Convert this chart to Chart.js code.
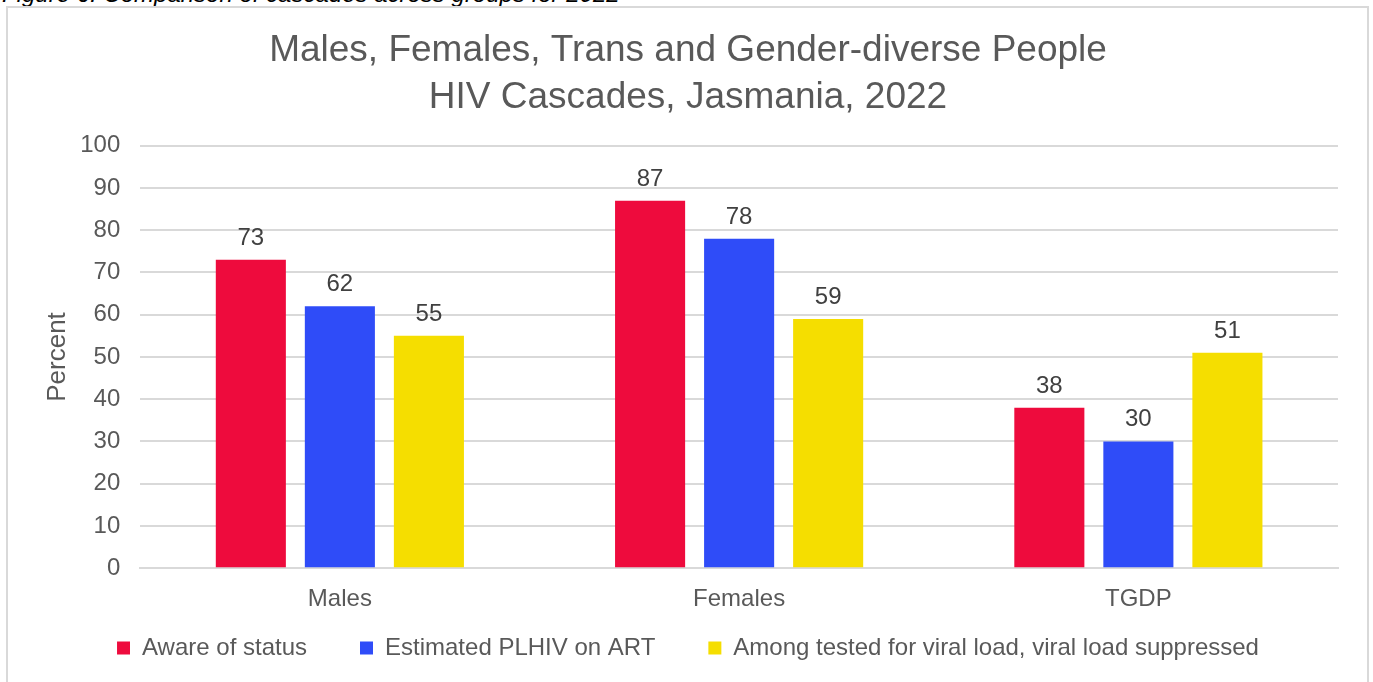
<!DOCTYPE html>
<html>
<head>
<meta charset="utf-8">
<script src="https://cdn.jsdelivr.net/npm/chart.js@4"></script>
<style>
  body { margin: 0; background: #fff; font-family: "Liberation Sans", Arial, sans-serif; }
  #caption { position: absolute; left: 2px; top: -18px; font-size: 24px; line-height: 24px; font-style: italic; color: #000; white-space: nowrap; }
  #frame { position: absolute; left: 6px; top: 6px; width: 1359px; height: 700px; border: 2px solid #d9d9d9; }
  #wrap { position: absolute; left: 0; top: 0; width: 1373px; height: 682px; }
</style>
</head>
<body>
<div id="caption">Figure 6. Comparison of cascades across groups for 2022</div>
<div id="frame"></div>
<div id="wrap"><canvas id="barChart"></canvas></div>
<script>
const groups = ['Males', 'Females', 'TGDP'];
const awareOfStatus = [73, 87, 38];
const onArt = [62, 78, 30];
const suppressed = [55, 59, 51];
const yTicks = [0, 10, 20, 30, 40, 50, 60, 70, 80, 90, 100];

const CHART = document.getElementById('barChart');

Chart.defaults.font.family = '"Liberation Sans", Arial, sans-serif';
Chart.defaults.color = '#595959';

// simple value labels above each bar
const valueLabels = {
    id: 'valueLabels',
    afterDatasetsDraw(chart) {
        const ctx = chart.ctx;
        ctx.save();
        ctx.font = '24px "Liberation Sans", Arial, sans-serif';
        ctx.fillStyle = '#404040';
        ctx.textAlign = 'center';
        ctx.textBaseline = 'alphabetic';
        chart.data.datasets.forEach((ds, i) => {
            chart.getDatasetMeta(i).data.forEach((bar, j) => {
                ctx.fillText(ds.data[j], bar.x, bar.y - 15);
            });
        });
        ctx.restore();
    }
};

let barChart = new Chart(CHART, {
    type: 'bar',
    data: {
        labels: groups,
        datasets: [
            {
                label: 'Aware of status',
                backgroundColor: '#EE0B3D',
                data: awareOfStatus
            }, {
                label: 'Estimated PLHIV on ART',
                backgroundColor: '#2F4CF8',
                data: onArt
            }, {
                label: 'Among tested for viral load, viral load suppressed',
                backgroundColor: '#F5DE00',
                data: suppressed
            }
        ]
    },
    options: {
        responsive: true,
        maintainAspectRatio: false,
        animation: false,
        datasets: {
            bar: { categoryPercentage: 0.669, barPercentage: 0.787 }
        },
        layout: { padding: { left: 38, right: 35, top: 27, bottom: 12 } },
        plugins: {
            title: {
                display: true,
                text: ['Males, Females, Trans and Gender-diverse People', 'HIV Cascades, Jasmania, 2022'],
                font: { size: 37, weight: 'normal', lineHeight: 1.28 },
                color: '#595959',
                padding: { top: 0, bottom: 24 }
            },
            legend: {
                position: 'bottom',
                labels: {
                    boxWidth: 13,
                    boxHeight: 13,
                    padding: 13,
                    font: { size: 24 },
                    color: '#595959',
                    // wider gaps between items than the vertical padding allows
                    generateLabels(chart) {
                        const items = Chart.defaults.plugins.legend.labels.generateLabels(chart);
                        items.forEach((it, i) => {
                            if (i < items.length - 1) it.text += '      ';
                        });
                        return items;
                    }
                }
            },
            tooltip: { enabled: false }
        },
        scales: {
            x: {
                grid: { display: false },
                border: { color: '#d9d9d9', width: 2 },
                ticks: { font: { size: 24 }, color: '#595959', padding: 9 }
            },
            y: {
                min: 0,
                max: 100,
                afterBuildTicks(axis) { axis.ticks = yTicks.map(v => ({ value: v })); },
                grid: { color: '#d9d9d9', lineWidth: 2, drawTicks: false },
                border: { display: false },
                ticks: { font: { size: 24 }, color: '#595959', padding: 20 },
                title: { display: true, text: 'Percent', font: { size: 26 }, color: '#595959', padding: { top: 4, bottom: -13 } }
            }
        }
    },
    plugins: [valueLabels]
});
</script>
</body>
</html>
